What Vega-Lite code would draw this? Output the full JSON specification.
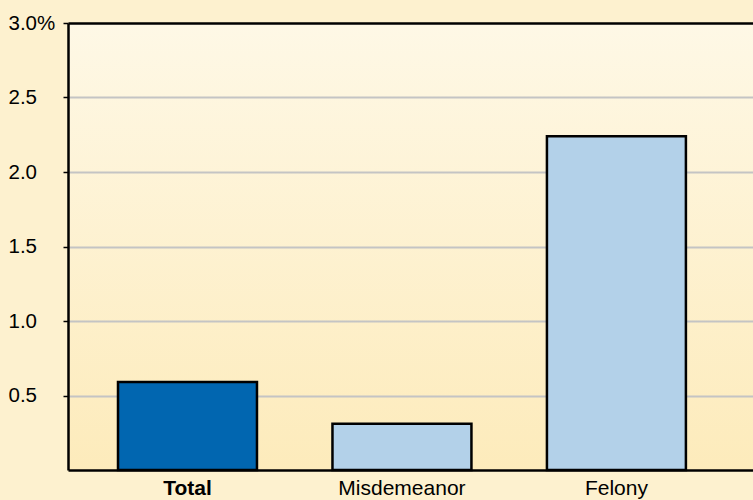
{
  "$schema": "https://vega.github.io/schema/vega-lite/v6.json",
  "width": 685,
  "height": 447,
  "autosize": {"type": "none"},
  "padding": {"left": 68, "top": 23, "right": 0, "bottom": 30},
  "background": "#fdf1cf",
  "config": {
    "font": "Liberation Sans",
    "view": {
      "stroke": null,
      "fill": {
        "gradient": "linear",
        "x1": 0, "y1": 0, "x2": 0, "y2": 1,
        "stops": [
          {"offset": 0, "color": "#fef8e6"},
          {"offset": 1, "color": "#fdebbb"}
        ]
      }
    }
  },
  "data": {
    "values": [
      {"offense": "Total", "rate": 0.59},
      {"offense": "Misdemeanor", "rate": 0.31},
      {"offense": "Felony", "rate": 2.24}
    ]
  },
  "mark": {"type": "bar", "stroke": "black", "strokeWidth": 2.5},
  "encoding": {
    "x": {
      "field": "offense",
      "type": "nominal",
      "sort": null,
      "scale": {"paddingInner": 0.352, "paddingOuter": 0.273, "align": 0.427},
      "axis": {
        "title": null,
        "labelAngle": 0,
        "ticks": false,
        "grid": false,
        "domainColor": "black",
        "domainWidth": 2.5,
        "labelFontSize": 21,
        "labelColor": "black",
        "labelPadding": 7,
        "labelFontWeight": {"condition": {"test": "datum.value === 'Total'", "value": "bold"}, "value": "normal"}
      }
    },
    "y": {
      "field": "rate",
      "type": "quantitative",
      "scale": {"domain": [0, 3], "nice": false},
      "axis": {
        "title": null,
        "values": [0.5, 1, 1.5, 2, 2.5, 3],
        "labelExpr": "datum.value === 3 ? '3.0%' : format(datum.value, '.1f')",
        "labelAlign": "left",
        "labelPadding": 55,
        "labelFontSize": 20.5,
        "labelColor": "black",
        "tickSize": 5,
        "tickColor": "black",
        "tickWidth": 1.5,
        "domainColor": "black",
        "domainWidth": 2.5,
        "grid": true,
        "gridColor": {"condition": {"test": "datum.value === 3", "value": "black"}, "value": "#c4c4c4"},
        "gridWidth": {"condition": {"test": "datum.value === 3", "value": 2.5}, "value": 2},
        "gridOpacity": 1
      }
    },
    "color": {
      "field": "offense",
      "type": "nominal",
      "scale": {"domain": ["Total", "Misdemeanor", "Felony"], "range": ["#0166b0", "#b3d1e9", "#b3d1e9"]},
      "legend": null
    }
  }
}
